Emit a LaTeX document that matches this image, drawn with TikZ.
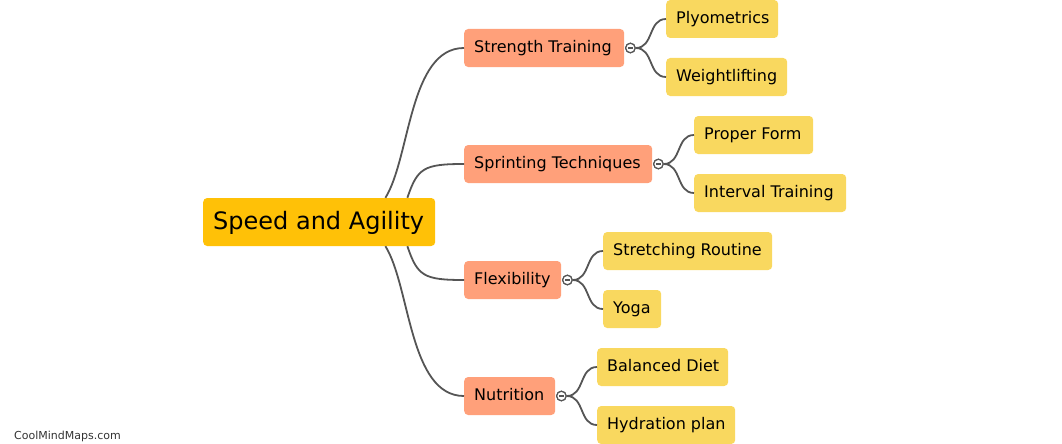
\documentclass[tikz,border=0pt]{standalone}
\usepackage{fontspec}
\setmainfont{DejaVu Sans}
\usetikzlibrary{calc}
\definecolor{rootc}{HTML}{FFC107}
\definecolor{midc}{HTML}{FFA07A}
\definecolor{leafc}{HTML}{F9D85F}
\definecolor{linec}{HTML}{555555}
\tikzset{
  box/.style={rectangle, rounded corners=4pt, inner xsep=10pt, inner ysep=0pt, anchor=west, minimum height=38pt, text=black, text height=12pt, text depth=2.6pt},
  rootbox/.style={box, fill=rootc, minimum height=48pt, font=\fontsize{24}{28}\selectfont, text height=17pt, text depth=3pt},
  midbox/.style={box, fill=midc, font=\fontsize{16}{19}\selectfont},
  leafbox/.style={box, fill=leafc, font=\fontsize{16}{19}\selectfont},
  link/.style={draw=linec, line width=1.8pt},
  toggle/.style={circle, draw=linec, fill=white, line width=1.2pt, minimum size=9.5pt, inner sep=0pt},
}
\newcommand{\lbl}[2]{\makebox[#1pt][l]{#2}}
\newcommand{\togglemark}[1]{\draw[linec, line width=1.2pt] ($(#1.center)+(-2.6,0)$) -- ($(#1.center)+(2.6,0)$);}
\begin{document}
\begin{tikzpicture}[x=1pt,y=-1pt]
\useasboundingbox (0,0) rectangle (1062,444);

% root
\node[rootbox] (root) at (203,222) {\lbl{212}{Speed and Agility}};

% level 1
\node[midbox] (st) at (464,48) {\lbl{140}{Strength Training}};
\node[midbox] (sp) at (464,164) {\lbl{168}{Sprinting Techniques}};
\node[midbox] (fl) at (464,280) {\lbl{77}{Flexibility}};
\node[midbox] (nu) at (464,396) {\lbl{71}{Nutrition}};

% leaves
\node[leafbox] (pl) at (666,19) {\lbl{92}{Plyometrics}};
\node[leafbox] (wl) at (666,77) {\lbl{101}{Weightlifting}};
\node[leafbox] (pf) at (694,135) {\lbl{99}{Proper Form}};
\node[leafbox] (it) at (694,193) {\lbl{132}{Interval Training}};
\node[leafbox] (sr) at (603,251) {\lbl{149}{Stretching Routine}};
\node[leafbox] (yo) at (603,309) {\lbl{38}{Yoga}};
\node[leafbox] (bd) at (597,367) {\lbl{111}{Balanced Diet}};
\node[leafbox] (hp) at (597,425) {\lbl{118}{Hydration plan}};

% root connectors
\coordinate (rt1) at ($(root.north east)+(-50,0)$);
\coordinate (rt2) at ($(root.north east)+(-28,0)$);
\coordinate (rb1) at ($(root.south east)+(-50,0)$);
\coordinate (rb2) at ($(root.south east)+(-28,0)$);
\draw[link] (rt1) .. controls +(25,-40) and +(-55,0) .. (st.west);
\draw[link] (rt2) .. controls +(10,-30) and +(-40,0) .. (sp.west);
\draw[link] (rb2) .. controls +(10,30) and +(-40,0) .. (fl.west);
\draw[link] (rb1) .. controls +(25,40) and +(-55,0) .. (nu.west);

% toggles
\node[toggle] (t1) at ($(st.east)+(6,0)$) {};
\node[toggle] (t2) at ($(sp.east)+(6,0)$) {};
\node[toggle] (t3) at ($(fl.east)+(6,0)$) {};
\node[toggle] (t4) at ($(nu.east)+(6,0)$) {};

% leaf connectors
\draw[link] (t1.east) .. controls +(18,0) and +(-18,0) .. (pl.west);
\draw[link] (t1.east) .. controls +(18,0) and +(-18,0) .. (wl.west);
\draw[link] (t2.east) .. controls +(18,0) and +(-18,0) .. (pf.west);
\draw[link] (t2.east) .. controls +(18,0) and +(-18,0) .. (it.west);
\draw[link] (t3.east) .. controls +(18,0) and +(-18,0) .. (sr.west);
\draw[link] (t3.east) .. controls +(18,0) and +(-18,0) .. (yo.west);
\draw[link] (t4.east) .. controls +(18,0) and +(-18,0) .. (bd.west);
\draw[link] (t4.east) .. controls +(18,0) and +(-18,0) .. (hp.west);

% redraw toggles on top
\node[toggle] at (t1) {};
\node[toggle] at (t2) {};
\node[toggle] at (t3) {};
\node[toggle] at (t4) {};
\togglemark{t1}
\togglemark{t2}
\togglemark{t3}
\togglemark{t4}

% watermark
\node[anchor=base west, inner sep=0pt, text=black!80, font=\fontsize{11}{13}\selectfont] (wm) at (14,439) {CoolMindMaps.com};
\end{tikzpicture}
\end{document}
